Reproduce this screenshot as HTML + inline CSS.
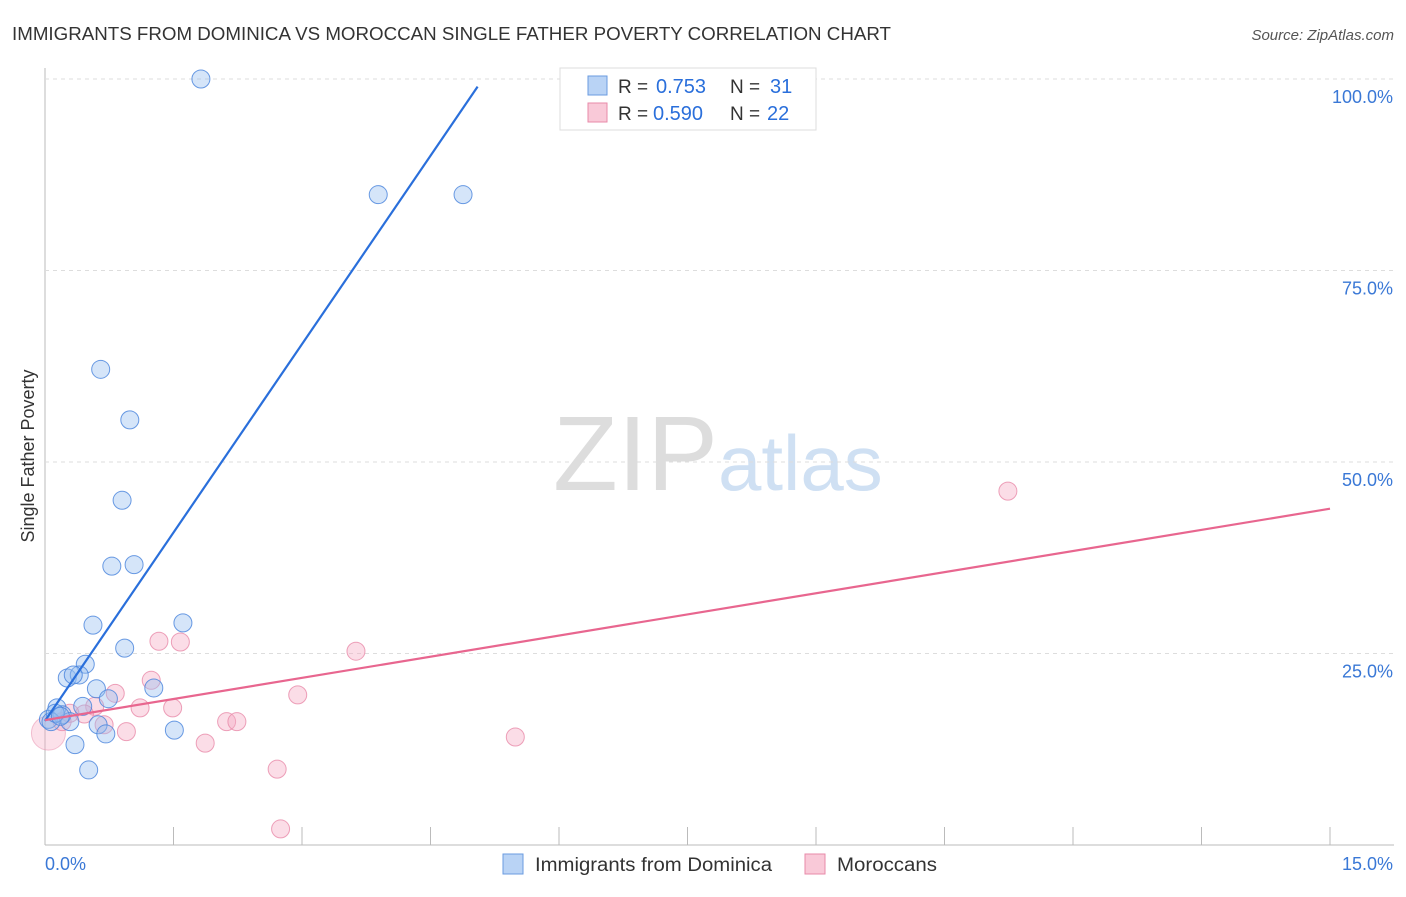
<!DOCTYPE html>
<html><head><meta charset="utf-8"><style>
body{margin:0;background:#fff;font-family:"Liberation Sans",sans-serif;}
svg text{font-family:"Liberation Sans",sans-serif;}
</style></head><body>
<svg width="1406" height="892" xmlns="http://www.w3.org/2000/svg" id="chart">
<text x="12" y="40" font-size="18" fill="#333" textLength="879" lengthAdjust="spacingAndGlyphs">IMMIGRANTS FROM DOMINICA VS MOROCCAN SINGLE FATHER POVERTY CORRELATION CHART</text>
<text x="1394" y="40" font-size="15" fill="#555" font-style="italic" text-anchor="end">Source: ZipAtlas.com</text>
<text x="34" y="456" font-size="18" fill="#333" text-anchor="middle" transform="rotate(-90 34 456)">Single Father Poverty</text>
<text x="553" y="490" font-size="106" fill="#ddd" font-family="Liberation Serif">ZIP</text>
<text x="718" y="490" font-size="78" fill="#cfe0f3">atlas</text>
<g id="grid"></g><g id="marks"></g>
<g>
<rect x="560" y="68" width="256" height="62" fill="#fff" stroke="#ddd"/>
<rect x="588" y="76" width="19" height="19" fill="#b9d3f5" stroke="#6a9be0"/>
<text x="618" y="93" font-size="19" fill="#333">R =</text>
<text x="656" y="93" font-size="20" fill="#2a6fdb">0.753</text>
<text x="730" y="93" font-size="19" fill="#333">N =</text>
<text x="770" y="93" font-size="20" fill="#2a6fdb">31</text>
<rect x="588" y="103" width="19" height="19" fill="#f9c9d8" stroke="#e88aa9"/>
<text x="618" y="120" font-size="19" fill="#333">R =</text>
<text x="653" y="120" font-size="20" fill="#2a6fdb">0.590</text>
<text x="730" y="120" font-size="19" fill="#333">N =</text>
<text x="767" y="120" font-size="20" fill="#2a6fdb">22</text>
</g>
<g>
<rect x="503" y="854" width="20" height="20" fill="#b9d3f5" stroke="#6a9be0"/>
<text x="535" y="871" font-size="19" fill="#333" textLength="237" lengthAdjust="spacingAndGlyphs">Immigrants from Dominica</text>
<rect x="805" y="854" width="20" height="20" fill="#f9c9d8" stroke="#e88aa9"/>
<text x="837" y="871" font-size="19" fill="#333" textLength="100" lengthAdjust="spacingAndGlyphs">Moroccans</text>
</g>
</svg>
<script>
const yTicks=[0,25,50,75,100];
const yTickLabels=["","25.0%","50.0%","75.0%","100.0%"];
const blueX=[1.82,3.89,4.88,0.65,0.99,0.90,0.78,1.04,0.56,1.61,0.93,0.47,0.26,0.40,0.33,0.60,1.27,0.74,0.44,0.14,0.04,0.20,0.29,0.62,0.07,0.71,1.51,0.35,0.51,0.12,0.18];
const blueY=[100,84.9,84.9,62.1,55.5,45.0,36.4,36.6,28.7,29.0,25.7,23.6,21.8,22.2,22.2,20.4,20.5,19.1,18.1,17.9,16.4,17.0,16.1,15.7,16.1,14.5,15.0,13.1,9.8,17.2,16.8];
const pinkX=[11.24,1.33,1.58,3.63,1.24,0.82,2.95,1.11,1.49,0.58,0.46,0.20,0.69,0.95,2.12,2.24,1.87,5.49,2.71,2.75,0.04,0.29];
const pinkY=[46.2,26.6,26.5,25.3,21.5,19.8,19.6,17.9,17.9,18.1,17.1,16.1,15.7,14.8,16.1,16.1,13.3,14.1,9.9,2.1,14.6,17.2];
const blueLine=[0,16.2,5.05,99.0];
const pinkLine=[0,16.3,15,43.9];
const X0=45,X1=1330,Y0=845,Y1=79;
const xs=v=>X0+v/15*(X1-X0), ys=v=>Y0-v/100*(Y0-Y1);
const NS="http://www.w3.org/2000/svg";
const grid=document.getElementById('grid'),marks=document.getElementById('marks');
function mk(tag,at,par){const e=document.createElementNS(NS,tag);for(const k in at)e.setAttribute(k,at[k]);par.appendChild(e);return e;}
let ax=mk('line',{x1:X0,y1:68,x2:X0,y2:Y0,stroke:'#bbb'},grid);


let bx=mk('line',{x1:X0,y1:Y0,x2:1394,y2:Y0,stroke:'#bbb'},grid);


yTicks.forEach((t,i)=>{if(t>0){const g=mk('line',{x1:X0,y1:ys(t),x2:1394,y2:ys(t),stroke:'#ddd','stroke-dasharray':'4,4'},grid);


const l=mk('text',{x:1393,y:ys(t)+24,'font-size':18,fill:'#3a78d6','text-anchor':'end'},grid);l.textContent=yTickLabels[i];

}});
for(let i=1;i<=10;i++){const x=xs(i*1.5);const t=mk('line',{x1:x,y1:Y0-18,x2:x,y2:Y0,stroke:'#bbb'},grid);

}
const xl0=mk('text',{x:45,y:870,'font-size':18,fill:'#3a78d6'},grid);xl0.textContent='0.0%';


const xl1=mk('text',{x:1393,y:870,'font-size':18,fill:'#3a78d6','text-anchor':'end'},grid);xl1.textContent='15.0%';


const big=mk('circle',{cx:xs(0.04),cy:ys(14.6),r:17,fill:'rgba(245,170,195,0.35)',stroke:'rgba(232,138,169,0.5)'},marks);


pinkX.forEach((v,i)=>{if(i===20)return;const c=mk('circle',{cx:xs(v),cy:ys(pinkY[i]),r:9,fill:'rgba(245,170,195,0.4)',stroke:'rgba(232,138,169,0.8)'},marks);

});
blueX.forEach((v,i)=>{const c=mk('circle',{cx:xs(v),cy:ys(blueY[i]),r:9,fill:'rgba(150,190,240,0.4)',stroke:'rgba(70,130,220,0.8)'},marks);

});
const bl=mk('line',{x1:xs(blueLine[0]),y1:ys(blueLine[1]),x2:xs(blueLine[2]),y2:ys(blueLine[3]),stroke:'#2a6fdb','stroke-width':2.2},marks);


const pl=mk('line',{x1:xs(pinkLine[0]),y1:ys(pinkLine[1]),x2:xs(pinkLine[2]),y2:ys(pinkLine[3]),stroke:'#e8668f','stroke-width':2.2},marks);


</script>
</body></html>
